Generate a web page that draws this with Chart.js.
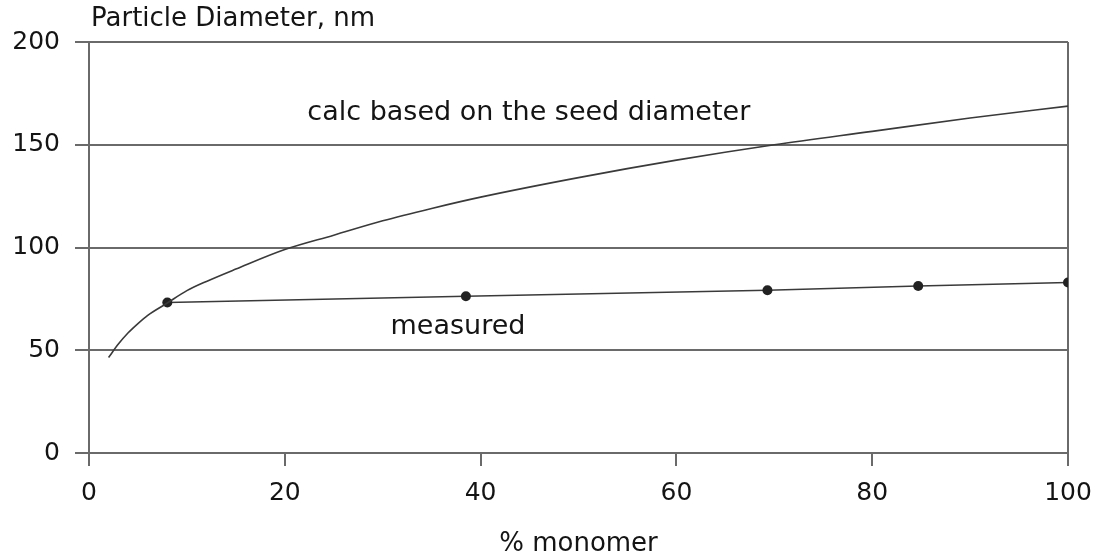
<!DOCTYPE html>
<html>
<head>
<meta charset="utf-8">
<script src="https://cdn.jsdelivr.net/npm/chart.js@4.4.1/dist/chart.umd.min.js"></script>
<style>
  html, body { margin: 0; padding: 0; background: #fff; }
  #wrap { width: 1099px; height: 559px; }
</style>
</head>
<body>
<div id="wrap"><canvas id="chart" width="1099" height="559"></canvas></div>
<script>
// calc based on the seed diameter
const calcX = [2, 3, 4, 5, 6, 8, 10, 12, 15, 20, 25, 30, 35, 40, 50, 60, 70, 80, 90, 100];
const calcY = [46.5, 53, 58.5, 63, 67, 73, 79, 83.5, 89.5, 99, 106, 113, 119, 124.5, 134, 142.5, 150, 156.5, 163, 168.8];

// measured points
const measX = [8, 38.5, 69.3, 84.7, 100];
const measY = [73.2, 76.3, 79.2, 81.3, 83];

const yTicks = [0, 50, 100, 150, 200];
const xTicks = [0, 20, 40, 60, 80, 100];

const FONT = "'DejaVu Sans', sans-serif";
const TXT = '#141414';
const LINE = '#6a6a6a';

const pts = (xs, ys) => xs.map((x, i) => ({ x, y: ys[i] }));

// texts: axis title on top, annotations, x axis title
const textPlugin = {
  id: 'texts',
  afterDraw(chart) {
    const { ctx, chartArea, scales } = chart;
    ctx.save();
    ctx.fillStyle = TXT;
    ctx.textBaseline = 'middle';
    ctx.textAlign = 'left';
    ctx.font = `26px ${FONT}`;
    ctx.fillText('Particle Diameter, nm', chartArea.left + 2, 19);
    ctx.font = `27px ${FONT}`;
    ctx.fillText('calc based on the seed diameter', scales.x.getPixelForValue(22.3), scales.y.getPixelForValue(165.5));
    ctx.fillText('measured', scales.x.getPixelForValue(30.8), scales.y.getPixelForValue(61.5));
    ctx.font = `26px ${FONT}`;
    ctx.textAlign = 'center';
    ctx.fillText('% monomer', (chartArea.left + chartArea.right) / 2, 544);
    ctx.restore();
  }
};

new Chart(document.getElementById('chart'), {
  type: 'line',
  data: {
    datasets: [
      {
        label: 'calc',
        data: pts(calcX, calcY),
        borderColor: '#3a3a3a',
        borderWidth: 1.6,
        pointRadius: 0,
        cubicInterpolationMode: 'monotone',
        fill: false,
      },
      {
        label: 'measured',
        data: pts(measX, measY),
        borderColor: '#3a3a3a',
        borderWidth: 1.6,
        pointRadius: 5,
        pointBackgroundColor: '#222',
        pointBorderColor: '#222',
        pointBorderWidth: 0,
        tension: 0,
        fill: false,
      },
    ],
  },
  options: {
    responsive: false,
    animation: false,
    layout: { padding: { left: 0, right: 31, top: 42, bottom: 0 } },
    plugins: {
      legend: { display: false },
      tooltip: { enabled: false },
    },
    scales: {
      x: {
        type: 'linear',
        min: 0,
        max: 100,
        afterFit(s) { s.height = 106; s.paddingLeft = 0; s.paddingRight = 0; },
        afterBuildTicks(s) { s.ticks = xTicks.map((v) => ({ value: v })); },
        border: { display: true, color: LINE, width: 2 },
        grid: {
          drawOnChartArea: true,
          color: (c) => (c.tick && (c.tick.value === 0 || c.tick.value === 100) ? LINE : 'rgba(0,0,0,0)'),
          tickColor: LINE,
          lineWidth: 2,
          tickLength: 13,
        },
        ticks: { color: TXT, font: { family: FONT, size: 25 }, padding: 12, maxRotation: 0 },
      },
      y: {
        type: 'linear',
        min: 0,
        max: 200,
        afterFit(s) { s.width = 89; s.paddingTop = 0; s.paddingBottom = 0; },
        afterBuildTicks(s) { s.ticks = yTicks.map((v) => ({ value: v })); },
        border: { display: true, color: LINE, width: 2 },
        grid: {
          color: LINE,
          tickColor: LINE,
          lineWidth: 2,
          tickLength: 14,
        },
        ticks: { color: TXT, font: { family: FONT, size: 25 }, padding: 15 },
      },
    },
  },
  plugins: [textPlugin],
});
</script>
</body>
</html>
